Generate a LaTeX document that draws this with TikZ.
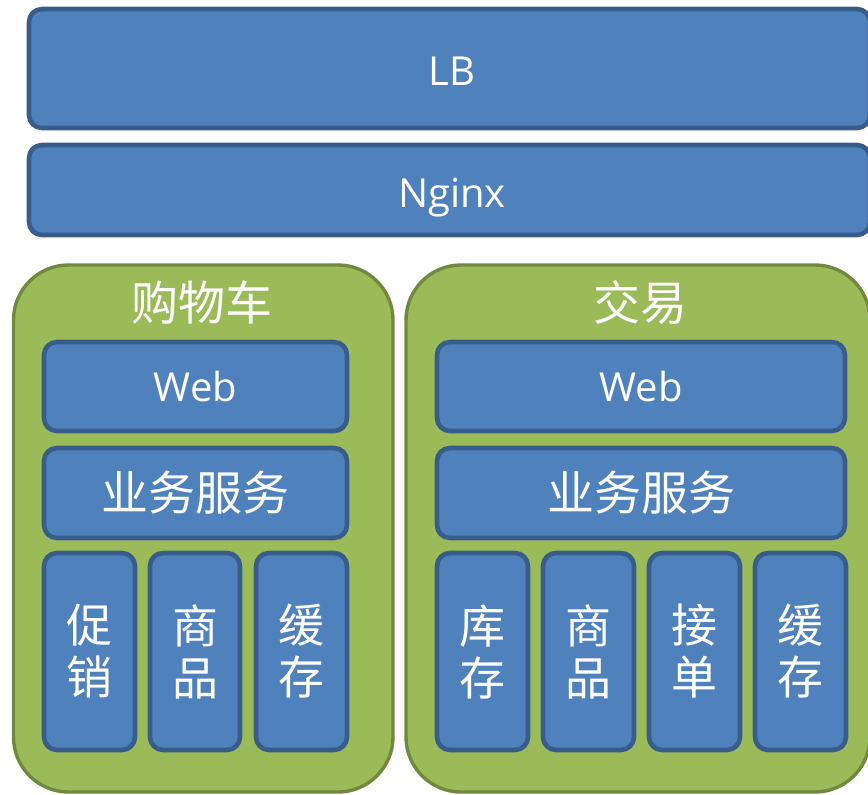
\documentclass[tikz,border=0pt]{standalone}
\usepackage{fontspec}
\setmainfont{Open Sans}
\newfontfamily\cjk{Noto Sans CJK SC}
\definecolor{bfill}{HTML}{4F81BD}
\definecolor{bdraw}{HTML}{385D8A}
\definecolor{gfill}{HTML}{9BBB59}
\definecolor{gdraw}{HTML}{71893F}
\tikzset{
  bluebox/.style={draw=bdraw, fill=bfill, line width=4.6pt, rounded corners=13pt, inner sep=0pt, text=white},
  grp/.style={draw=gdraw, fill=gfill, line width=3.4pt, rounded corners=55pt, inner sep=0pt},
  lat/.style={font=\fontsize{40}{48}\selectfont},
  cjkt/.style={font=\cjk\fontsize{47}{52}\selectfont},
  vert/.style={font=\cjk\fontsize{46}{52}\selectfont, align=center},
}
\begin{document}
\begin{tikzpicture}[x=1pt,y=-1pt]
\useasboundingbox (0,0) rectangle (868,795);
% top layers
\node[bluebox, minimum width=841pt, minimum height=119pt] (lb) at (449.5,68.5) {};
\node[lat, text=white] (lbt) at (452,71) {LB};
\node[bluebox, minimum width=841pt, minimum height=90pt] (ngx) at (449.5,190) {};
\node[lat, text=white, anchor=base] (ngxt) at (452,207) {Nginx};
% groups
\node[grp, minimum width=379.5pt, minimum height=527pt] (g1) at (203.25,528.5) {};
\node[grp, minimum width=464pt, minimum height=527pt] (g2) at (638,528.5) {};
\node[cjkt, text=white] (g1t) at (202,303) {购物车};
\node[cjkt, text=white] (g2t) at (640,303) {交易};
% left group
\node[bluebox, lat, minimum width=303pt, minimum height=89pt] (w1) at (195.5,386.5) {Web};
\node[bluebox, cjkt, minimum width=303pt, minimum height=90pt] (s1) at (195.5,493) {业务服务};
\node[bluebox, vert, minimum width=91pt, minimum height=197pt] (a1) at (89.5,651.5) {促\\销};
\node[bluebox, vert, minimum width=90pt, minimum height=197pt] (a2) at (195,651.5) {商\\品};
\node[bluebox, vert, minimum width=91pt, minimum height=197pt] (a3) at (301.5,651.5) {缓\\存};
% right group
\node[bluebox, lat, minimum width=408pt, minimum height=89pt] (w2) at (641,386.5) {Web};
\node[bluebox, cjkt, minimum width=408pt, minimum height=90pt] (s2) at (641,493) {业务服务};
\node[bluebox, vert, minimum width=91pt, minimum height=197pt] (b1) at (482.5,651.5) {库\\存};
\node[bluebox, vert, minimum width=91pt, minimum height=197pt] (b2) at (588.5,651.5) {商\\品};
\node[bluebox, vert, minimum width=91pt, minimum height=197pt] (b3) at (694.5,651.5) {接\\单};
\node[bluebox, vert, minimum width=91pt, minimum height=197pt] (b4) at (800.5,651.5) {缓\\存};
\end{tikzpicture}
\end{document}
